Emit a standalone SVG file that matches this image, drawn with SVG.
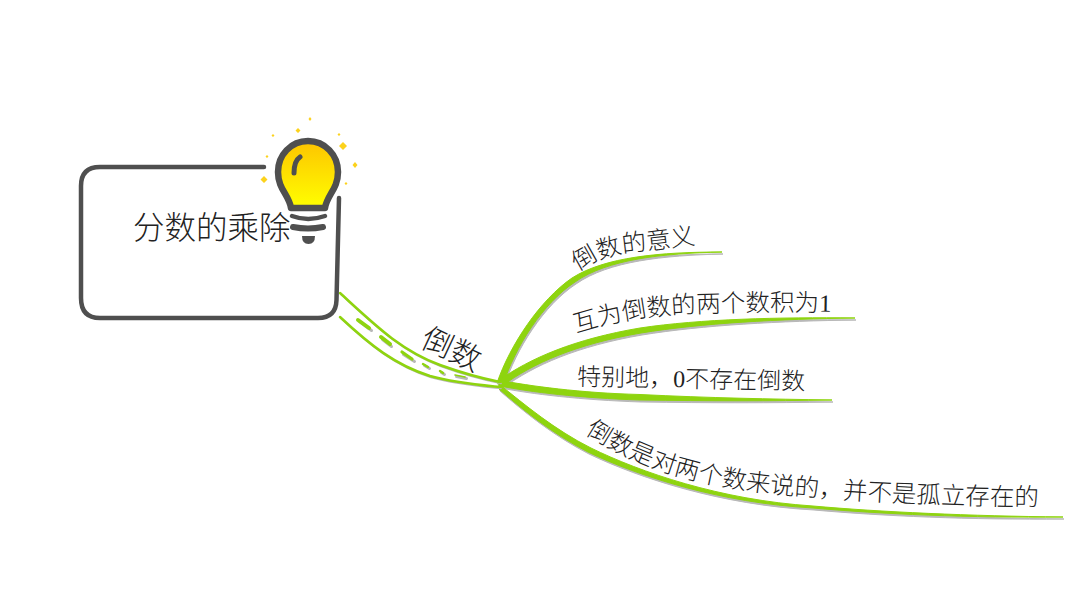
<svg xmlns="http://www.w3.org/2000/svg" xmlns:xlink="http://www.w3.org/1999/xlink" width="1080" height="600" viewBox="0 0 1080 600">
<style>
.t{font-family:"Liberation Serif","Noto Sans CJK SC",serif;fill:#222;font-weight:300}
.b{font-size:24.500px}
.g{fill:#8ed40f;stroke:#8ed40f;stroke-width:1}
.s{fill:#b8b8b8;stroke:#b8b8b8;stroke-width:1}
.gl{fill:none;stroke:#8ed40f;stroke-linecap:round}
.sl{fill:none;stroke:#b8b8b8;stroke-linecap:round}
.d{fill:none;stroke:#4f4f4f;stroke-linecap:round;stroke-linejoin:round}
.y{fill:#fcd21c}
</style>
<defs>
<linearGradient id="bulb" x1="0" y1="0" x2="0" y2="1"><stop offset="0" stop-color="#fdc400"/><stop offset="1" stop-color="#ffff00"/></linearGradient>
<path id="p1" d="M497,383C510,345 540,300 572,278C605,257 660,252 722,252C662,253.500 608,259 575,282C543,303 515,347 503,385Z"/>
<path id="p2" d="M498,381C530,358 575,339 640,328C700,319 780,317 855,318C780,319 702,323 641,333C577,344 533,363 502,386Z"/>
<path id="p3" d="M498,380C530,386 580,393 640,394.500C710,398 770,399 832,400C770,401 710,401 640,400C580,398 530,392 500,386Z"/>
<path id="p4" d="M499,384C525,405 555,430 591,448C640,472 720,500 813,506C880,512 970,516 1063,517C970,518 880,514 813,508C720,503 638,476 588,452C553,434 523,410 499,389Z"/>
<path id="tp1" d="M578,272Q600,255 637,251T702,243"/>
<path id="tp2" d="M576,333C610,322 640,316 690,313C740,311 790,311 840,312"/>
<path id="tp3" d="M577,385L810,390"/>
<path id="tp4" d="M585,433C625,460 680,482 756,491C820,499 930,505 1045,506"/>
</defs>
<rect width="1080" height="600" fill="#fff"/>
<g id="connectors">
<g transform="translate(1,2)" class="s"><use xlink:href="#p1"/><use xlink:href="#p2"/><use xlink:href="#p3"/><use xlink:href="#p4"/></g>
<g class="g"><use xlink:href="#p1"/><use xlink:href="#p2"/><use xlink:href="#p3"/><use xlink:href="#p4"/></g>
<g transform="translate(1,1.500)" class="sl" stroke-width="1.500">
<path d="M340,293C375,325 400,350 440,365C465,374 485,379 500,382"/>
<path d="M340,317C370,345 395,365 430,376C455,383 480,385 500,387"/>
</g>
<path class="gl" stroke-width="2.500" d="M340,293C375,325 400,350 440,365C465,374 485,379 500,382"/>
<path class="gl" stroke-width="2.500" d="M340,317C370,345 395,365 430,376C455,383 480,385 500,387"/>
<g class="sl" stroke-width="3" transform="translate(1.500,1.500)">
<path d="M358,320L370,329M381,338L390,345M402,353L413,360M423,364L428,367M440,371L443,373M455,375L465,377"/>
</g>
<path class="gl" stroke-width="4" d="M358,320L369,328M381,337L390,344"/>
<path class="gl" stroke-width="3.200" d="M402,352L412,359"/>
<path class="gl" stroke-width="2.400" d="M423,364L428,367M440,371L443,373"/>
<path class="gl" stroke-width="1.600" d="M455,375L465,377"/>
</g>
<g id="root">
<path class="d" stroke-width="4.500" d="M264,167H100Q81,167 81,186V298Q81,318 100,318H318Q336,318 336.500,300L339,198"/>
<g id="bulb-icon">
<path d="M308,141C291,141 278,155 278,172C278,189 289,195 291,208H325C327,195 338,189 338,172C338,155 325,141 308,141Z" fill="url(#bulb)" stroke="#4f4f4f" stroke-width="6.500" stroke-linejoin="round"/>
<path class="d" stroke-width="5" d="M300,157Q294,161 294,173"/>
<path class="d" stroke-width="4.500" d="M292,216Q308,222 325,216"/>
<path class="d" stroke-width="6" d="M293,227Q308,230 323,227"/>
<path d="M302,236H315Q315,244 308.500,244Q302,244 302,236Z" fill="#4f4f4f"/>
<path class="y" d="M264,176l3.500,3.500l-3.500,3.500l-3.500,-3.500ZM343,142l4,4l-4,4l-4,-4ZM355,162l2.500,3l-2.500,3l-2.500,-3ZM298,128l2.500,2.500l-2.500,2.500l-2.500,-2.500ZM310,117l1.500,2l-1.500,2l-1.500,-2ZM273,134l1.500,1.500l-1.500,1.500l-1.500,-1.500ZM339,133l1.500,1.500l-1.500,1.500l-1.500,-1.500ZM267,155l1.500,1.500l-1.500,1.500l-1.500,-1.500ZM346,182l1.500,1.500l-1.500,1.500l-1.500,-1.500Z"/>
</g>
<text class="t" x="133" y="239" font-size="31.500">分数的乘除</text>
</g>
<g id="node-daoshu"><text class="t" font-size="31" transform="translate(419,346) rotate(25)">倒数</text></g>
<g id="node-1"><text class="t b"><textPath xlink:href="#tp1">倒数的意义</textPath></text></g>
<g id="node-2"><text class="t b"><textPath xlink:href="#tp2">互为倒数的两个数积为1</textPath></text></g>
<g id="node-3"><text class="t" font-size="24"><textPath xlink:href="#tp3">特别地，0不存在倒数</textPath></text></g>
<g id="node-4"><text class="t b"><textPath xlink:href="#tp4">倒数是对两个数来说的，并不是孤立存在的</textPath></text></g>
</svg>
